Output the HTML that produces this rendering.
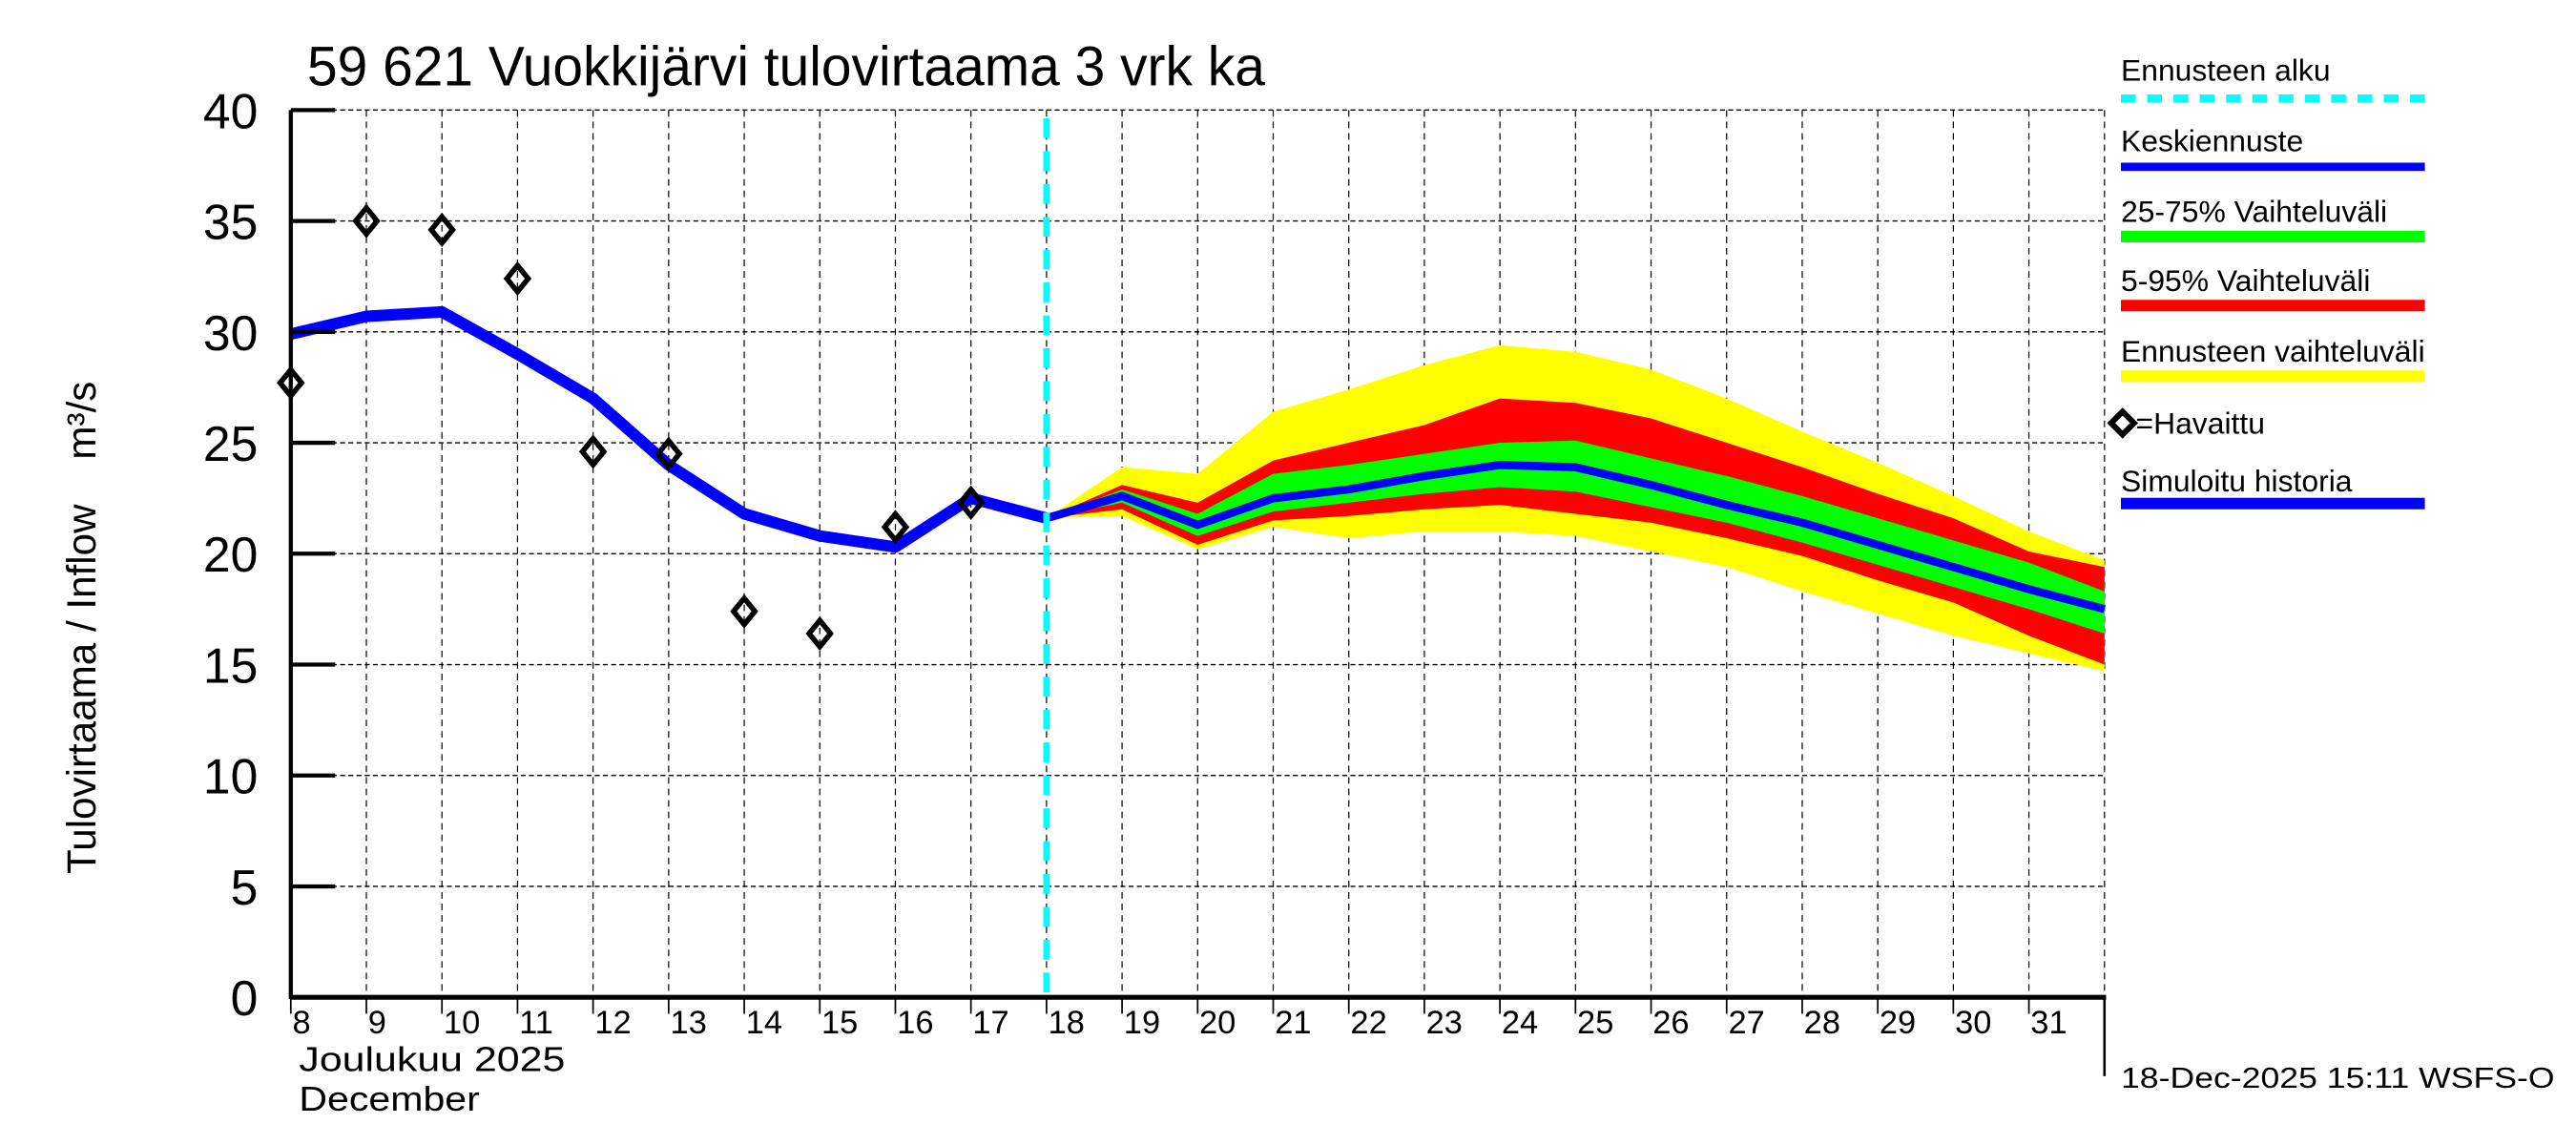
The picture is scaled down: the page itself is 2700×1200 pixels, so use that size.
<!DOCTYPE html>
<html><head><meta charset="utf-8"><style>
html,body{margin:0;padding:0;background:#fff;}
svg{display:block;font-family:"Liberation Sans",sans-serif;}
</style></head><body>
<svg id="chart" xmlns="http://www.w3.org/2000/svg" width="2700" height="1200" viewBox="0 0 1568 696.9">
<rect x="0" y="0" width="1568" height="697" fill="#fff"/>
<g id="grid"></g>
<g id="bands"></g>
<g id="lines"></g>
<g id="axes"></g>
<text x="187" y="52" font-size="34" textLength="583" lengthAdjust="spacingAndGlyphs">59 621 Vuokkijärvi tulovirtaama 3 vrk ka</text>
<text transform="translate(58,382) rotate(-90)" text-anchor="middle" font-size="24.5" style="white-space:pre" xml:space="preserve">Tulovirtaama / Inflow    m³/s</text>
<text x="182" y="652" font-size="21" textLength="162" lengthAdjust="spacingAndGlyphs">Joulukuu  2025</text>
<text x="182" y="676" font-size="21" textLength="110" lengthAdjust="spacingAndGlyphs">December</text>
<text x="1291" y="662" font-size="18" textLength="264" lengthAdjust="spacingAndGlyphs">18-Dec-2025 15:11 WSFS-O</text>
<g id="legend">
<g><text x="1291" y="49" font-size="18.5">Ennusteen alku</text><line x1="1291" y1="60" x2="1476" y2="60" stroke="#00ffff" stroke-width="5" stroke-dasharray="9,7"/></g>
<g><text x="1291" y="92" font-size="18.5">Keskiennuste</text><line x1="1291" y1="101.5" x2="1476" y2="101.5" stroke="#0000ff" stroke-width="5"/></g>
<g><text x="1291" y="135" font-size="18.5">25-75% Vaihteluväli</text><line x1="1291" y1="144" x2="1476" y2="144" stroke="#00ff00" stroke-width="7"/></g>
<g><text x="1291" y="177" font-size="18.5">5-95% Vaihteluväli</text><line x1="1291" y1="186" x2="1476" y2="186" stroke="#ff0000" stroke-width="7"/></g>
<g><text x="1291" y="220" font-size="18.5">Ennusteen vaihteluväli</text><line x1="1291" y1="229" x2="1476" y2="229" stroke="#ffff00" stroke-width="7"/></g>
<g><path d="M1285,257.5 l7,-7 l7,7 l-7,7 z" fill="none" stroke="#000" stroke-width="3.5"/><text x="1300" y="264" font-size="18.5">=Havaittu</text></g>
<g><text x="1291" y="299" font-size="18.5">Simuloitu historia</text><line x1="1291" y1="306.5" x2="1476" y2="306.5" stroke="#0000ff" stroke-width="7"/></g>
</g>
</svg>
<script>
const histDays = [8,9,10,11,12,13,14,15,16,17,18];
const simulated = [29.9,30.7,30.9,29.0,27.0,24.0,21.8,20.8,20.3,22.5,21.6];
const obsDays = [8,9,10,11,12,13,14,15,16,17];
const observed = [27.7,35.0,34.6,32.4,24.6,24.5,17.4,16.4,21.2,22.3];
const fcDays = [18,19,20,21,22,23,24,25,26,27,28,29,30,31,32];
const median = [21.6,22.6,21.3,22.5,22.9,23.5,24.0,23.9,23.1,22.2,21.4,20.4,19.4,18.4,17.5];
const rangeHigh = [21.6,23.9,23.6,26.4,27.4,28.5,29.4,29.1,28.3,27.0,25.5,24.1,22.6,21.0,19.7];
const p95 = [21.6,23.1,22.3,24.2,25.0,25.8,27.0,26.8,26.1,25.0,23.9,22.7,21.6,20.1,19.4];
const p75 = [21.6,22.9,21.8,23.6,24.0,24.5,25.0,25.1,24.3,23.5,22.6,21.6,20.6,19.6,18.3];
const p25 = [21.6,22.3,20.8,21.9,22.3,22.7,23.0,22.8,22.1,21.4,20.5,19.5,18.5,17.5,16.4];
const p5 = [21.6,22.0,20.4,21.5,21.7,22.0,22.2,21.8,21.4,20.7,19.9,18.8,17.8,16.3,15.0];
const rangeLow = [21.6,21.7,20.2,21.2,20.7,21.0,21.0,20.8,20.1,19.4,18.3,17.3,16.3,15.5,14.7];
const yTicks = [0,5,10,15,20,25,30,35,40];
const xTickDays = [8,9,10,11,12,13,14,15,16,17,18,19,20,21,22,23,24,25,26,27,28,29,30,31];
const forecastStart = 18;

const NS='http://www.w3.org/2000/svg';
const X0=177,X1=1281,Y0=607,Y1=67,D0=8,D1=32,V0=0,V1=40;
const xs=d=>X0+(d-D0)/(D1-D0)*(X1-X0);
const ys=v=>Y0-(v-V0)/(V1-V0)*(Y0-Y1);
function mk(tag,attrs,parent){const e=document.createElementNS(NS,tag);for(const k in attrs)e.setAttribute(k,attrs[k]);parent.appendChild(e);return e;}
const grid=document.getElementById('grid'),bands=document.getElementById('bands'),lines=document.getElementById('lines'),axes=document.getElementById('axes');

yTicks.forEach(v=>{
  if(v>0){const g=mk('line',{x1:X0,x2:X1,y1:ys(v),y2:ys(v),stroke:'#000','stroke-width':0.8,'stroke-dasharray':'3,2'},grid);
  
  }
  const t=mk('line',{x1:X0,x2:X0+27,y1:ys(v),y2:ys(v),stroke:'#000','stroke-width':2.5},axes);
  
  
  const l=mk('text',{x:X0-20,y:ys(v)+11,'font-size':30,'text-anchor':'end'},axes);
  l.textContent=v;
  
  
});
xTickDays.concat([32]).forEach(d=>{
  if(d>D0){const g=mk('line',{x1:xs(d),x2:xs(d),y1:Y1,y2:Y0,stroke:'#000','stroke-width':0.7,'stroke-dasharray':'4,3'},grid);
  
  }
});
xTickDays.forEach(d=>{
  const t=mk('line',{x1:xs(d),x2:xs(d),y1:Y0,y2:Y0+10,stroke:'#000','stroke-width':1},axes);
  
  
  const l=mk('text',{x:xs(d)+1,y:Y0+22,'font-size':20},axes);
  l.textContent=d;
  
  
});
function band(hi,lo,color,name){
  let p=fcDays.map((d,i)=>xs(d)+','+ys(hi[i])).join(' ')+' '+fcDays.slice().reverse().map((d,j)=>{const i=fcDays.length-1-j;return xs(d)+','+ys(lo[i]);}).join(' ');
  const e=mk('polygon',{points:p,fill:color},bands);
  
  
}
band(rangeHigh,rangeLow,'#ffff00','band-range');
band(p95,p5,'#ff0000','band-5-95');
band(p75,p25,'#00ff00','band-25-75');
const sim=mk('polyline',{points:histDays.map((d,i)=>xs(d)+','+ys(simulated[i])).join(' '),fill:'none',stroke:'#0000ff','stroke-width':7,'stroke-linejoin':'round'},lines);


const med=mk('polyline',{points:fcDays.map((d,i)=>xs(d)+','+ys(median[i])).join(' '),fill:'none',stroke:'#0000ff','stroke-width':5},lines);


const fs=mk('line',{x1:xs(forecastStart),x2:xs(forecastStart),y1:Y1+5,y2:Y0,stroke:'#00ffff','stroke-width':4,'stroke-dasharray':'12,8'},lines);


obsDays.forEach((d,i)=>{
  const x=xs(d),y=ys(observed[i]);
  const e=mk('path',{d:`M${x-6.5},${y} L${x},${y-8} L${x+6.5},${y} L${x},${y+8} Z`,fill:'none',stroke:'#000','stroke-width':3.2},lines);
  
  
});
const ya=mk('line',{x1:X0,x2:X0,y1:Y1,y2:Y0+1,stroke:'#000','stroke-width':2.5},axes);


const xa=mk('line',{x1:X0,x2:X1+1,y1:Y0,y2:Y0,stroke:'#000','stroke-width':3},axes);


const re=mk('line',{x1:X1,x2:X1,y1:Y0,y2:Y0+48,stroke:'#000','stroke-width':1.5},axes);


</script>
</body></html>
